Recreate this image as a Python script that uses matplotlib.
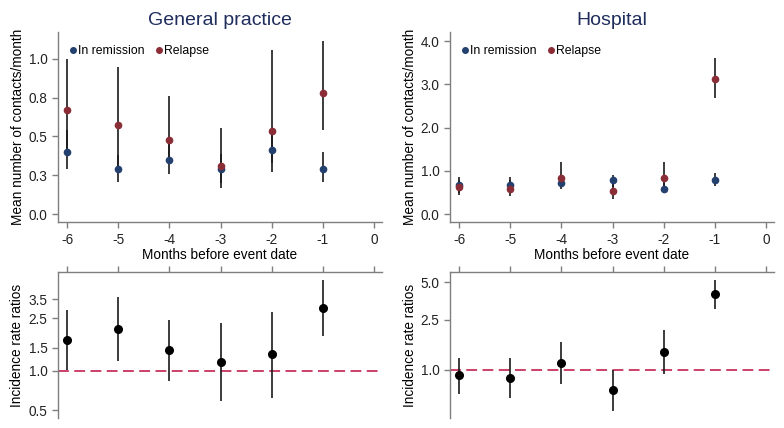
import matplotlib.pyplot as plt
from matplotlib.lines import Line2D

plt.rcParams["font.family"] = ["Liberation Sans", "DejaVu Sans"]

months = [-6, -5, -4, -3, -2, -1]

# General practice: mean contacts/month with 95% CI
gp_rem = [0.40, 0.29, 0.35, 0.29, 0.41, 0.29]
gp_rem_lo = [0.29, 0.21, 0.26, 0.17, 0.27, 0.21]
gp_rem_hi = [0.54, 0.38, 0.45, 0.39, 0.52, 0.40]
gp_rel = [0.67, 0.575, 0.475, 0.31, 0.535, 0.78]
gp_rel_lo = [0.40, 0.30, 0.33, 0.20, 0.33, 0.54]
gp_rel_hi = [0.995, 0.945, 0.76, 0.555, 1.055, 1.115]

# Hospital
ho_rem = [0.67, 0.67, 0.73, 0.78, 0.59, 0.79]
ho_rem_lo = [0.50, 0.48, 0.59, 0.62, 0.48, 0.65]
ho_rem_hi = [0.85, 0.86, 0.88, 0.90, 0.72, 0.95]
ho_rel = [0.62, 0.59, 0.84, 0.54, 0.83, 3.12]
ho_rel_lo = [0.44, 0.42, 0.62, 0.36, 0.55, 2.69]
ho_rel_hi = [0.80, 0.80, 1.21, 0.75, 1.20, 3.62]

# Incidence rate ratios
gp_irr = [1.72, 2.08, 1.45, 1.17, 1.33, 3.0]
gp_irr_lo = [1.02, 1.18, 0.84, 0.59, 0.62, 1.84]
gp_irr_hi = [2.92, 3.64, 2.45, 2.33, 2.82, 4.93]
ho_irr = [0.90, 0.86, 1.14, 0.69, 1.39, 4.0]
ho_irr_lo = [0.64, 0.59, 0.77, 0.47, 0.92, 3.06]
ho_irr_hi = [1.23, 1.25, 1.67, 1.0, 2.09, 5.25]

gp_ticks = [0.0, 0.25, 0.5, 0.75, 1.0]
gp_ticklabels = ["0.0", "0.3", "0.5", "0.8", "1.0"]
ho_ticks = [0.0, 1.0, 2.0, 3.0, 4.0]
ho_ticklabels = ["0.0", "1.0", "2.0", "3.0", "4.0"]
gp_irr_ticks = [0.5, 1.0, 1.5, 2.5, 3.5]
ho_irr_ticks = [1.0, 2.5, 5.0]

c_rem = "#23406e"
c_rel = "#8b2d36"
c_title = "#1f2d5c"
c_spine = "#7f7f7f"
c_ref = "#c8325a"
fs = 9.8

fig = plt.figure(figsize=(7.84, 4.28), dpi=100)

ax_gp = fig.add_axes([0.074, 0.481, 0.413, 0.444])
ax_ho = fig.add_axes([0.574, 0.481, 0.413, 0.444])
ax_gpi = fig.add_axes([0.074, 0.0234, 0.413, 0.341])
ax_hoi = fig.add_axes([0.574, 0.0234, 0.413, 0.341])


def style_common(ax):
    for s in ["top", "right", "bottom", "left"]:
        ax.spines[s].set_color(c_spine)
        ax.spines[s].set_linewidth(1.0)
    ax.tick_params(colors=c_spine, labelcolor="#222222", labelsize=fs, length=4, width=1.0)
    ax.set_xlim(-6.18, 0.155)
    ax.set_xticks(range(-6, 1))


def draw_top(ax, rem, rlo, rhi, rel, llo, lhi, ticks, labels, ylim, title):
    for vals, lo, hi, col in [(rem, rlo, rhi, c_rem), (rel, llo, lhi, c_rel)]:
        ax.vlines(months, lo, hi, color="#1a1a1a", linewidth=1.2, zorder=2)
    ax.plot(months, rem, "o", color=c_rem, ms=4.5, zorder=3)
    ax.plot(months, rel, "o", color=c_rel, ms=4.5, zorder=3)
    style_common(ax)
    ax.spines["top"].set_visible(False)
    ax.spines["right"].set_visible(False)
    ax.set_ylim(*ylim)
    ax.set_yticks(ticks)
    ax.set_yticklabels(labels)
    ax.set_xticklabels([str(m) for m in range(-6, 1)])
    ax.set_xlabel("Months before event date", fontsize=fs, labelpad=1)
    ax.set_ylabel("Mean number of contacts/month", fontsize=fs, labelpad=3)
    ax.set_title(title, fontsize=14, color=c_title, pad=5)
    handles = [
        Line2D([], [], marker="o", ls="", color=c_rem, ms=4),
        Line2D([], [], marker="o", ls="", color=c_rel, ms=4),
    ]
    ax.legend(handles, ["In remission", "Relapse"], loc="upper left", ncol=2,
              frameon=False, fontsize=8.8, handlelength=0.6, handletextpad=0.1,
              columnspacing=0.9, borderaxespad=0.2, bbox_to_anchor=(0.012, 0.97))


def draw_bottom(ax, irr, lo, hi, ticks, ylim):
    ax.set_yscale("log")
    ax.vlines(months, lo, hi, color="#1a1a1a", linewidth=1.2, zorder=2)
    ax.plot(months, irr, "o", color="black", ms=5.5, zorder=3)
    ax.axhline(1.0, color=c_ref, linestyle=(0, (6, 3)), linewidth=1.3, zorder=1)
    style_common(ax)
    ax.spines["bottom"].set_visible(False)
    ax.spines["right"].set_visible(False)
    ax.xaxis.tick_top()
    ax.tick_params(axis="x", labeltop=False)
    ax.set_ylim(*ylim)
    ax.set_yticks(ticks)
    ax.set_yticklabels(["%.1f" % t for t in ticks])
    ax.minorticks_off()
    ax.set_ylabel("Incidence rate ratios", fontsize=fs, labelpad=3)


draw_top(ax_gp, gp_rem, gp_rem_lo, gp_rem_hi, gp_rel, gp_rel_lo, gp_rel_hi,
         gp_ticks, gp_ticklabels, (-0.05, 1.17), "General practice")
draw_top(ax_ho, ho_rem, ho_rem_lo, ho_rem_hi, ho_rel, ho_rel_lo, ho_rel_hi,
         ho_ticks, ho_ticklabels, (-0.185, 4.21), "Hospital")
draw_bottom(ax_gpi, gp_irr, gp_irr_lo, gp_irr_hi, gp_irr_ticks, (0.436, 5.65))
draw_bottom(ax_hoi, ho_irr, ho_irr_lo, ho_irr_hi, ho_irr_ticks, (0.41, 6.04))

fig.savefig("out.png", dpi=100)
